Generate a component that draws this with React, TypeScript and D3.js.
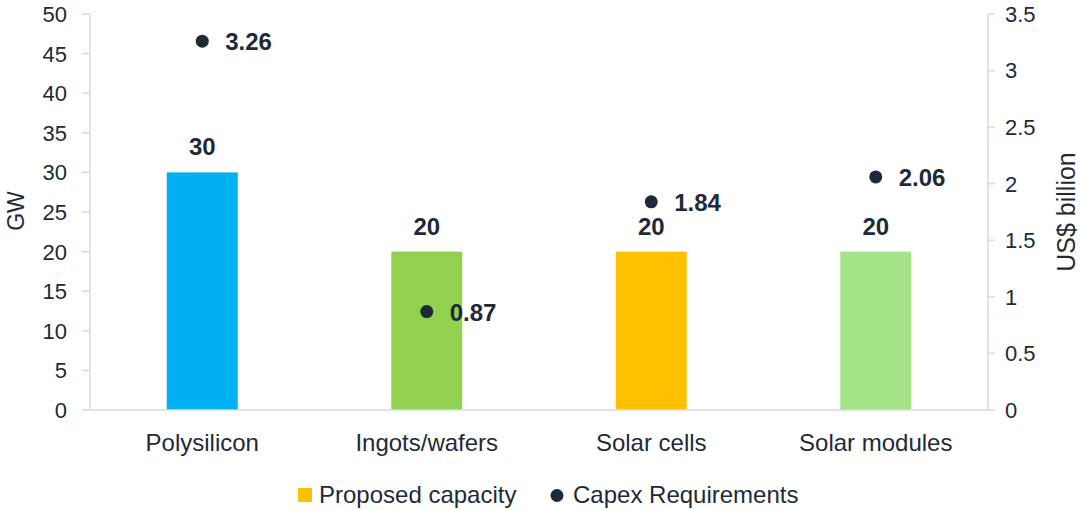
import React from "react";
import * as d3 from "d3";

const categories = ["Polysilicon", "Ingots/wafers", "Solar cells", "Solar modules"];
const capacityGW = [30, 20, 20, 20];
const capexBn = [3.26, 0.87, 1.84, 2.06];
const barColors = ["#00b0f0", "#92d050", "#ffc000", "#a5e388"];
const leftTicks = [0, 5, 10, 15, 20, 25, 30, 35, 40, 45, 50];
const rightTicks = [0, 0.5, 1, 1.5, 2, 2.5, 3, 3.5];

const W = 1081;
const H = 510;
const plotL = 90;
const plotR = 988;
const plotT = 14;
const plotB = 410;
const txt = "#1f2a37";
const font = "'Liberation Sans', Arial, sans-serif";

export default function App() {
  const x = d3
    .scaleBand<string>()
    .domain(categories)
    .range([plotL, plotR])
    .paddingInner(0.684)
    .paddingOuter(0.342);
  const yL = d3.scaleLinear().domain([0, 50]).range([plotB, plotT]);
  const yR = d3.scaleLinear().domain([0, 3.5]).range([plotB, plotT]);
  const cx = (c: string) => (x(c) as number) + x.bandwidth() / 2;

  return (
    <svg
      width={W}
      height={H}
      style={{ position: "absolute", left: 0, top: 0, background: "#fff" }}
      fontFamily={font}
    >
      {/* axes */}
      <line x1={plotL} x2={plotL} y1={plotT} y2={plotB} stroke="#d9d9d9" strokeWidth={1.5} />
      <line x1={plotR} x2={plotR} y1={plotT} y2={plotB} stroke="#d9d9d9" strokeWidth={1.5} />
      {leftTicks.map((t) => (
        <g key={"l" + t}>
          <line x1={plotL - 8} x2={plotL} y1={yL(t)} y2={yL(t)} stroke="#d9d9d9" strokeWidth={1.5} />
          <text x={67} y={yL(t)} dy="0.36em" textAnchor="end" fontSize={22} fill={txt}>
            {t}
          </text>
        </g>
      ))}
      {rightTicks.map((t) => (
        <g key={"r" + t}>
          <line x1={plotR} x2={plotR + 7} y1={yR(t)} y2={yR(t)} stroke="#d9d9d9" strokeWidth={1.5} />
          <text x={1005} y={yR(t)} dy="0.36em" textAnchor="start" fontSize={22} fill={txt}>
            {t}
          </text>
        </g>
      ))}
      <text
        transform={`translate(24,211) rotate(-90)`}
        textAnchor="middle"
        fontSize={23}
        fill={txt}
      >
        GW
      </text>
      <text
        transform={`translate(1075,212) rotate(-90)`}
        textAnchor="middle"
        fontSize={25}
        fill={txt}
      >
        US$ billion
      </text>

      {/* bars */}
      {categories.map((c, i) => (
        <g key={c}>
          <rect
            x={x(c)}
            y={yL(capacityGW[i])}
            width={x.bandwidth()}
            height={plotB - yL(capacityGW[i])}
            fill={barColors[i]}
          />
          <text
            x={cx(c)}
            y={yL(capacityGW[i]) - 17}
            textAnchor="middle"
            fontSize={24}
            fontWeight="bold"
            fill={txt}
          >
            {capacityGW[i]}
          </text>
          <text x={cx(c)} y={451} textAnchor="middle" fontSize={24} fill={txt}>
            {c}
          </text>
        </g>
      ))}
      <line x1={plotL} x2={plotR} y1={plotB} y2={plotB} stroke="#d6dce5" strokeWidth={1.5} />

      {/* capex points */}
      {categories.map((c, i) => (
        <g key={"p" + c}>
          <circle cx={cx(c)} cy={yR(capexBn[i])} r={6.5} fill={txt} />
          <text
            x={cx(c) + 23}
            y={yR(capexBn[i]) + 9}
            fontSize={24}
            fontWeight="bold"
            fill={txt}
          >
            {capexBn[i].toFixed(2)}
          </text>
        </g>
      ))}

      {/* legend */}
      <rect x={298} y={488} width={14} height={14} fill="#ffc000" />
      <text x={319} y={502.5} fontSize={24} fill={txt}>
        Proposed capacity
      </text>
      <circle cx={557} cy={495.5} r={6.5} fill={txt} />
      <text x={573} y={502.5} fontSize={24} fill={txt}>
        Capex Requirements
      </text>
    </svg>
  );
}
